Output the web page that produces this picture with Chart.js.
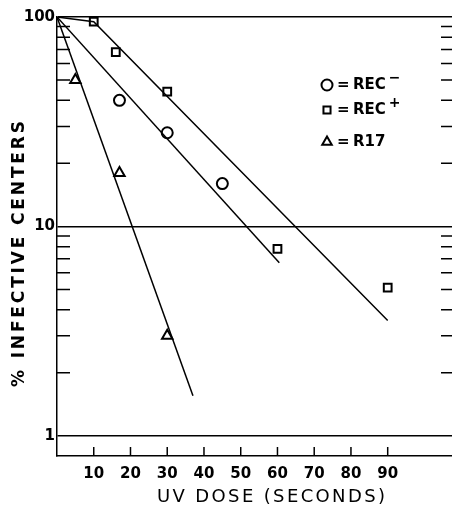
<!DOCTYPE html>
<html>
<head>
<meta charset="utf-8">
<script src="https://cdn.jsdelivr.net/npm/chart.js@4"></script>
<style>
  html, body { margin: 0; padding: 0; background: #fff; overflow: hidden; }
  #wrap { width: 452px; height: 511px; }
  canvas { display: block; }
</style>
</head>
<body>
<div id="wrap"><canvas id="chart" width="452" height="511"></canvas></div>
<script>
// Datos (dosis UV en segundos, % centros infectivos)
const recMinusX = [17, 30, 45];
const recMinusY = [40, 28, 16];
const recPlusX = [10, 16, 30, 60, 90];
const recPlusY = [95, 68, 44, 7.8, 5.1];
const r17X = [5, 17, 30];
const r17Y = [50, 18, 3];

// Rectas de ajuste dibujadas a mano en el original
const fitRecPlusX = [0, 10, 90];
const fitRecPlusY = [100, 95, 3.55];
const fitRecMinusX = [0, 60.5];
const fitRecMinusY = [100, 6.7];
const fitR17X = [0, 37];
const fitR17Y = [100, 1.55];

const xTicks = [10, 20, 30, 40, 50, 60, 70, 80, 90];
const yLabels = [1, 10, 100];
const yMinor = [2, 3, 4, 5, 6, 7, 8, 9, 20, 30, 40, 50, 60, 70, 80, 90];

const legendItems = [
  { style: 'circle', text: 'REC', sup: '−' },
  { style: 'rect', text: 'REC', sup: '+' },
  { style: 'triangle', text: 'R17', sup: '' }
];

const toPoints = (xs, ys) => xs.map((x, i) => ({ x: x, y: ys[i] }));

const markerSet = (label, xs, ys, style, r) => ({
  label: label,
  data: toPoints(xs, ys),
  showLine: false,
  pointStyle: style,
  pointRadius: r,
  pointBorderColor: '#000',
  pointBackgroundColor: '#fff',
  pointBorderWidth: 2
});

const lineSet = (label, xs, ys) => ({
  label: label,
  data: toPoints(xs, ys),
  showLine: true,
  borderColor: '#000',
  borderWidth: 1.5,
  pointRadius: 0,
  fill: false
});

// Marcas interiores, títulos de ejes y leyenda
const decor = {
  id: 'decor',
  afterDraw(chart) {
    const ctx = chart.ctx;
    const xs = chart.scales.x;
    const ys = chart.scales.y;
    const a = chart.chartArea;
    ctx.save();
    ctx.strokeStyle = '#000';
    ctx.lineWidth = 1.5;
    // ticks del eje x hacia dentro
    xTicks.forEach(v => {
      const px = xs.getPixelForValue(v);
      ctx.beginPath();
      ctx.moveTo(px, a.bottom);
      ctx.lineTo(px, a.bottom - 9);
      ctx.stroke();
    });
    // ticks menores del eje y, a izquierda y derecha
    yMinor.forEach(v => {
      const py = ys.getPixelForValue(v);
      ctx.beginPath();
      ctx.moveTo(a.left, py);
      ctx.lineTo(a.left + 13, py);
      ctx.moveTo(a.right, py);
      ctx.lineTo(a.right - 11, py);
      ctx.stroke();
    });

    ctx.fillStyle = '#000';
    ctx.textAlign = 'left';
    ctx.textBaseline = 'middle';

    const fitText = (txt, target) => {
      ctx.letterSpacing = '0px';
      const w = ctx.measureText(txt).width;
      ctx.letterSpacing = ((target - w) / (txt.length - 1)) + 'px';
    };
    // título eje x
    ctx.font = '18px "DejaVu Sans"';
    fitText('UV DOSE (SECONDS)', 228);
    ctx.fillText('UV DOSE (SECONDS)', 157, 497);

    // título eje y
    ctx.save();
    ctx.translate(20, 387);
    ctx.rotate(-Math.PI / 2);
    ctx.font = 'bold 17px "DejaVu Sans"';
    fitText('% INFECTIVE CENTERS', 266);
    ctx.fillText('% INFECTIVE CENTERS', 0, 0);
    ctx.restore();
    ctx.letterSpacing = '0px';

    // leyenda
    let ly = 85;
    const gaps = [0, 25, 32];
    legendItems.forEach((it, i) => {
      ly += gaps[i];
      ctx.lineWidth = 2;
      ctx.fillStyle = '#fff';
      ctx.strokeStyle = '#000';
      Chart.helpers.drawPoint(ctx, { pointStyle: it.style, radius: it.style === 'rect' ? 5 : 5.5, borderWidth: 2 }, 327, ly);
      ctx.fillStyle = '#000';
      ctx.font = 'bold 15px "DejaVu Sans"';
      ctx.fillText('=', 337, ly);
      ctx.fillText(it.text, 353, ly);
      if (it.sup) {
        const w = ctx.measureText(it.text).width;
        ctx.font = 'bold 14px "DejaVu Sans"';
        ctx.fillText(it.sup, 353 + w + 3, ly - 7);
      }
    });
    ctx.restore();
  }
};

const ctx = document.getElementById('chart').getContext('2d');
new Chart(ctx, {
  type: 'scatter',
  data: {
    datasets: [
      lineSet('fit REC+', fitRecPlusX, fitRecPlusY),
      lineSet('fit REC-', fitRecMinusX, fitRecMinusY),
      lineSet('fit R17', fitR17X, fitR17Y),
      markerSet('REC-', recMinusX, recMinusY, 'circle', 5.5),
      markerSet('REC+', recPlusX, recPlusY, 'rect', 5.5),
      markerSet('R17', r17X, r17Y, 'triangle', 6)
    ]
  },
  options: {
    responsive: false,
    animation: false,
    layout: { autoPadding: false, padding: { top: 17, right: 0, left: 0, bottom: 0 } },
    plugins: {
      legend: { display: false },
      tooltip: { enabled: false }
    },
    scales: {
      x: {
        type: 'linear',
        min: 0,
        max: 107.5,
        afterBuildTicks: s => { s.ticks = xTicks.map(v => ({ value: v })); },
        afterFit: s => { s.height = 55; },
        border: { display: true, color: '#000', width: 1.5 },
        grid: { display: false },
        ticks: {
          autoSkip: false,
          maxRotation: 0,
          padding: 1,
          color: '#000',
          font: { family: 'DejaVu Sans', size: 15, weight: 'bold' },
          callback: v => String(v)
        }
      },
      y: {
        type: 'logarithmic',
        min: 0.8,
        max: 100,
        afterFit: s => { s.width = 57; },
        border: { display: true, color: '#000', width: 1.5 },
        grid: {
          drawTicks: false,
          lineWidth: 1.5,
          color: c => (yLabels.includes(c.tick.value) ? '#000' : 'rgba(0,0,0,0)')
        },
        ticks: {
          autoSkip: false,
          padding: 2,
          color: '#000',
          font: { family: 'DejaVu Sans', size: 15, weight: 'bold' },
          callback: v => (yLabels.includes(v) ? String(v) : '')
        }
      }
    }
  },
  plugins: [decor]
});
</script>
</body>
</html>
